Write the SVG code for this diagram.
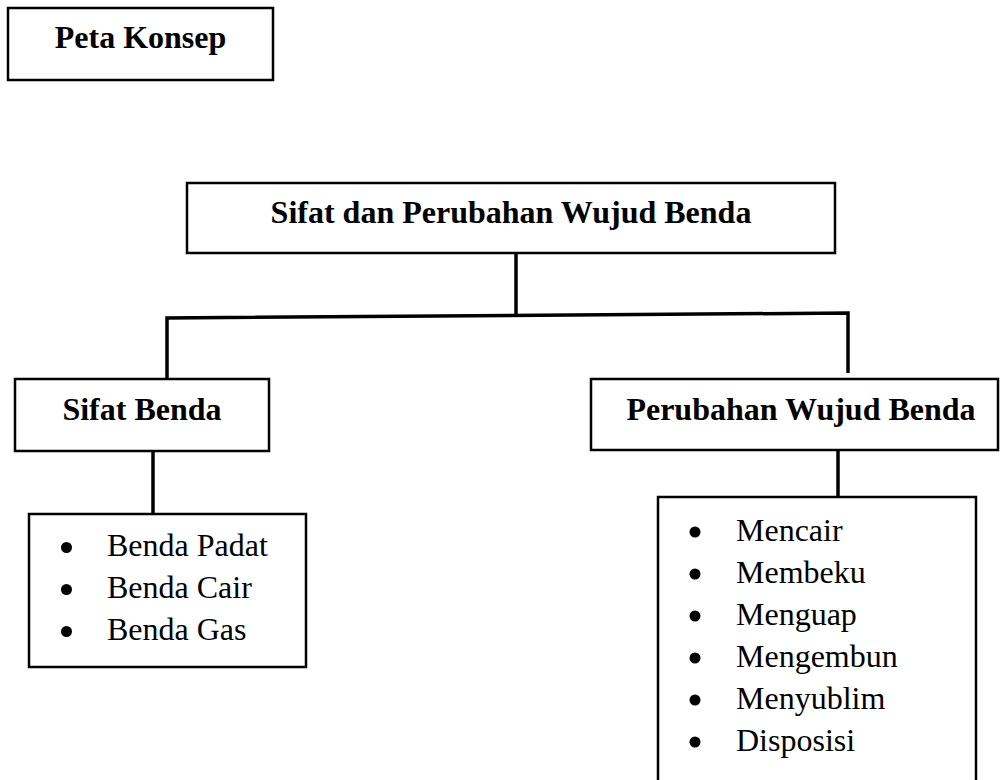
<svg xmlns="http://www.w3.org/2000/svg" width="1003" height="780" viewBox="0 0 1003 780">
<style>
.box{fill:#fff;stroke:#000;stroke-width:2.5}
.con{fill:none;stroke:#000;stroke-width:3.5}
.b{font-family:"Liberation Serif","Times New Roman",serif;font-weight:bold;font-size:32px;fill:#000;text-anchor:middle}
.r{font-family:"Liberation Serif","Times New Roman",serif;font-size:32px;fill:#000}
.dot{fill:#000}
</style>
<rect width="1003" height="780" fill="#fff"/>
<g id="connectors">
<line class="con" x1="516" y1="253" x2="516" y2="316"/>
<polyline class="con" points="167,379 167,318 848,313 848,373"/>
<line class="con" x1="153" y1="451" x2="153" y2="514"/>
<line class="con" x1="838" y1="450" x2="838" y2="497"/>
</g>
<g id="peta-konsep">
<rect class="box" x="8" y="8" width="265" height="72"/>
<text class="b" x="140.5" y="48">Peta Konsep</text>
</g>
<g id="root">
<rect class="box" x="187" y="183" width="648" height="70"/>
<text class="b" x="511" y="223">Sifat dan Perubahan Wujud Benda</text>
</g>
<g id="sifat-benda">
<rect class="box" x="15" y="379" width="254" height="72"/>
<text class="b" x="142" y="420">Sifat Benda</text>
</g>
<g id="perubahan-wujud">
<rect class="box" x="591" y="379" width="407" height="71"/>
<text class="b" x="801" y="420">Perubahan Wujud Benda</text>
</g>
<g id="sifat-list">
<rect class="box" x="29" y="514" width="277" height="153"/>
<circle class="dot" cx="66.5" cy="547.5" r="5.5"/>
<circle class="dot" cx="66.5" cy="589.5" r="5.5"/>
<circle class="dot" cx="66.5" cy="631.5" r="5.5"/>
<text class="r" x="107" y="556">Benda Padat</text>
<text class="r" x="107" y="598">Benda Cair</text>
<text class="r" x="107" y="640">Benda Gas</text>
</g>
<g id="perubahan-list">
<rect class="box" x="658" y="497" width="318" height="300"/>
<circle class="dot" cx="695" cy="532" r="5.5"/>
<circle class="dot" cx="695" cy="574" r="5.5"/>
<circle class="dot" cx="695" cy="616" r="5.5"/>
<circle class="dot" cx="695" cy="658" r="5.5"/>
<circle class="dot" cx="695" cy="700" r="5.5"/>
<circle class="dot" cx="695" cy="742" r="5.5"/>
<text class="r" x="736" y="541">Mencair</text>
<text class="r" x="736" y="583">Membeku</text>
<text class="r" x="736" y="625">Menguap</text>
<text class="r" x="736" y="667">Mengembun</text>
<text class="r" x="736" y="709">Menyublim</text>
<text class="r" x="736" y="751">Disposisi</text>
</g>
</svg>
